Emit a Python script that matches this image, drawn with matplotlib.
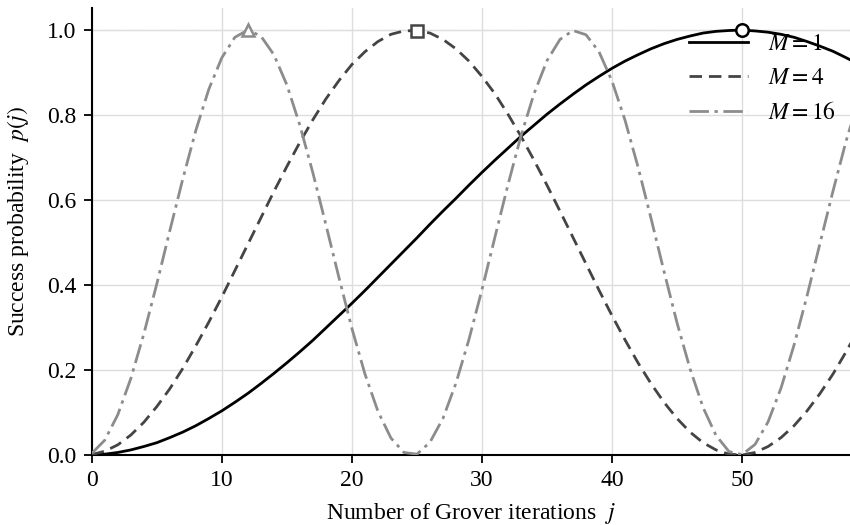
import numpy as np
import matplotlib
matplotlib.use("Agg")
import matplotlib.pyplot as plt

plt.rcParams['font.family'] = ['Liberation Serif', 'DejaVu Serif']
plt.rcParams['mathtext.fontset'] = 'stix'
plt.rcParams['font.size'] = 17

# Grover iteration count and success probability for each number of marked items
j = np.arange(0, 60)

p_m1 = [0.000, 0.002, 0.006, 0.012, 0.020, 0.029, 0.041, 0.054, 0.069, 0.086,
        0.104, 0.124, 0.145, 0.168, 0.192, 0.217, 0.243, 0.270, 0.299, 0.328,
        0.357, 0.387, 0.418, 0.449, 0.480, 0.511, 0.543, 0.574, 0.604, 0.635,
        0.665, 0.694, 0.722, 0.750, 0.776, 0.802, 0.826, 0.849, 0.871, 0.891,
        0.910, 0.927, 0.942, 0.956, 0.968, 0.978, 0.986, 0.993, 0.997, 0.999,
        1.000, 0.998, 0.995, 0.990, 0.983, 0.973, 0.962, 0.950, 0.935, 0.919]

p_m4 = [0.001, 0.009, 0.024, 0.047, 0.077, 0.114, 0.156, 0.204, 0.257, 0.313,
        0.372, 0.434, 0.496, 0.558, 0.620, 0.679, 0.736, 0.789, 0.838, 0.881,
        0.919, 0.949, 0.973, 0.990, 0.998, 0.999, 0.993, 0.978, 0.956, 0.927,
        0.891, 0.850, 0.802, 0.750, 0.694, 0.635, 0.574, 0.512, 0.450, 0.388,
        0.328, 0.271, 0.217, 0.168, 0.124, 0.086, 0.054, 0.029, 0.012, 0.002,
        0.000, 0.006, 0.020, 0.041, 0.069, 0.104, 0.145, 0.191, 0.243, 0.298]

p_m16 = [0.004, 0.035, 0.095, 0.180, 0.285, 0.403, 0.528, 0.650, 0.764, 0.861,
         0.935, 0.983, 1.000, 0.986, 0.942, 0.871, 0.776, 0.664, 0.542, 0.418,
         0.298, 0.191, 0.103, 0.040, 0.006, 0.002, 0.030, 0.086, 0.169, 0.272,
         0.389, 0.513, 0.636, 0.751, 0.850, 0.928, 0.978, 0.999, 0.989, 0.949,
         0.880, 0.788, 0.678, 0.557, 0.432, 0.311, 0.203, 0.112, 0.046, 0.008,
         0.001, 0.025, 0.078, 0.158, 0.259, 0.375, 0.499, 0.622, 0.739, 0.840]

# optimal iteration marked on each curve
j_opt = [50, 25, 12]

fig = plt.figure(figsize=(8.5, 5.25), dpi=100)
ax = fig.add_axes([0.108, 0.1333, 0.892, 0.8515])

ax.grid(True, color='#dddddd', lw=1.0, zorder=0)
ax.axhline(1.0, color='#999999', lw=0.8, ls=':', zorder=1)

ax.plot(j, p_m1, color='black', lw=2.0, ls='-', label=r'$M = 1$', zorder=3)
ax.plot(j, p_m4, color='#444444', lw=2.0, dashes=(4.5, 2.5), label=r'$M = 4$', zorder=3)
ax.plot(j, p_m16, color='#8c8c8c', lw=2.0, dashes=(7, 2, 1.2, 2), label=r'$M = 16$', zorder=3)

ax.plot(j_opt[0], p_m1[j_opt[0]], 'o', ms=9, mfc='white', mec='black', mew=1.8, zorder=4, clip_on=False)
ax.plot(j_opt[1], p_m4[j_opt[1]], 's', ms=9, mfc='white', mec='#444444', mew=1.8, zorder=4, clip_on=False)
ax.plot(j_opt[2], p_m16[j_opt[2]], '^', ms=9, mfc='white', mec='#8c8c8c', mew=1.8, zorder=4, clip_on=False)

ax.set_xlim(0, 58.3)
ax.set_ylim(0, 1.052)
ax.set_xticks([0, 10, 20, 30, 40, 50])
ax.set_yticks([0.0, 0.2, 0.4, 0.6, 0.8, 1.0])

ax.spines['top'].set_visible(False)
ax.spines['right'].set_visible(False)
ax.spines['left'].set_linewidth(1.5)
ax.spines['bottom'].set_linewidth(1.5)
ax.tick_params(direction='out', length=6, width=1.3, pad=5, labelsize=17)

ax.set_xlabel(r'Number of Grover iterations  $j$', fontsize=17, labelpad=7)
ax.set_ylabel(r'Success probability  $p(j)$', fontsize=17)
ax.yaxis.set_label_coords(-0.08, 0.523)

ax.legend(loc='upper right', bbox_to_anchor=(1.0, 0.975), frameon=False,
          handlelength=2.5, handletextpad=0.85, fontsize=17,
          borderaxespad=0.2, labelspacing=0.55)

fig.savefig('out.png', dpi=100)
